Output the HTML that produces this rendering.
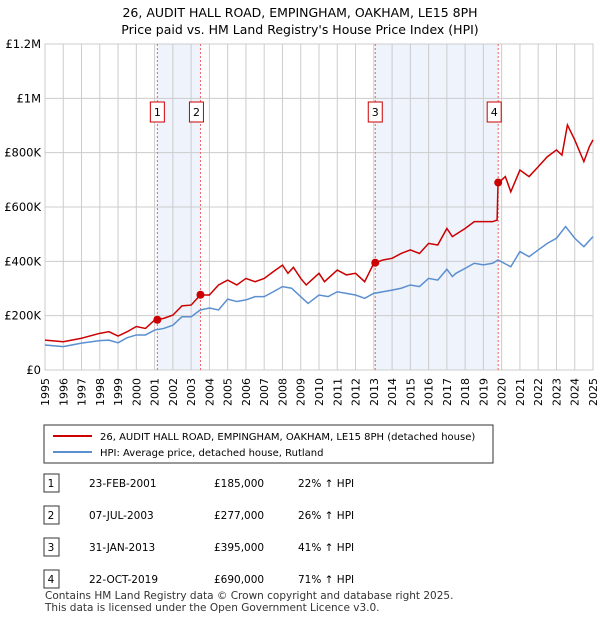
<!DOCTYPE html>
<html><head><meta charset="utf-8"><style>
body{margin:0;background:#fff;font-family:"Liberation Sans","DejaVu Sans",sans-serif;}
svg text{font-family:"DejaVu Sans","Liberation Sans",sans-serif;}
</style></head><body>
<svg id="c" width="600" height="620" xmlns="http://www.w3.org/2000/svg">
<text x="300" y="17" text-anchor="middle" font-size="12.5">26, AUDIT HALL ROAD, EMPINGHAM, OAKHAM, LE15 8PH</text>
<text x="300" y="34" text-anchor="middle" font-size="12.5">Price paid vs. HM Land Registry's House Price Index (HPI)</text>
<g id="plot"></g>
<rect x="44" y="425" width="449" height="38" fill="#fff" stroke="#333"/>
<line x1="53" y1="436" x2="92" y2="436" stroke="#cc0000" stroke-width="2"/>
<text x="100" y="440" font-size="10">26, AUDIT HALL ROAD, EMPINGHAM, OAKHAM, LE15 8PH (detached house)</text>
<line x1="53" y1="452" x2="92" y2="452" stroke="#5b8fd0" stroke-width="2"/>
<text x="100" y="456" font-size="10">HPI: Average price, detached house, Rutland</text>
<g id="tbl" font-size="10.5"></g>
<text x="45" y="599" font-size="10.5" fill="#333">Contains HM Land Registry data © Crown copyright and database right 2025.</text>
<text x="45" y="611" font-size="10.5" fill="#333">This data is licensed under the Open Government Licence v3.0.</text>
</svg>
<script>
const hpiYears=[1995,1996,1997,1998,1998.5,1999,1999.5,2000,2000.5,2001,2001.5,2002,2002.5,2003,2003.5,2004,2004.5,2005,2005.5,2006,2006.5,2007,2007.5,2008,2008.5,2009,2009.4,2010,2010.5,2011,2011.5,2012,2012.5,2013,2013.5,2014,2014.5,2015,2015.5,2016,2016.5,2017,2017.3,2017.5,2018,2018.5,2019,2019.5,2019.8,2020.5,2021,2021.5,2022,2022.5,2023,2023.5,2024,2024.5,2025];
const hpiValues=[92,86,99,108,110,100,119,129,129,147,153,165,196,196,221,228,221,261,252,258,270,270,288,307,301,270,245,276,270,288,282,276,264,282,288,294,301,313,307,337,331,371,344,356,374,393,387,393,405,380,436,417,442,466,485,528,485,454,491];
const ppYears=[1995,1996,1997,1998,1998.5,1999,1999.5,2000,2000.5,2001,2001.5,2002,2002.5,2003,2003.5,2004,2004.5,2005,2005.5,2006,2006.5,2007,2007.5,2008,2008.3,2008.6,2009,2009.3,2010,2010.3,2011,2011.5,2012,2012.5,2013,2013.5,2014,2014.5,2015,2015.5,2016,2016.5,2017,2017.3,2018,2018.5,2019,2019.5,2019.75,2019.8,2020.2,2020.5,2021,2021.5,2022,2022.5,2023,2023.3,2023.6,2024,2024.5,2024.8,2025];
const ppValues=[110,104,117,135,141,125,141,160,153,184,190,202,236,239,276,276,313,331,313,337,325,337,362,386,356,378,337,313,356,325,368,350,356,325,393,405,411,429,442,429,466,460,521,491,521,546,546,546,552,687,712,656,736,712,748,785,810,791,902,847,767,822,847];
const saleDates=[2001.15,2003.51,2013.08,2019.81];
const salePrices=[185,277,395,690];
const saleLabels=["1","2","3","4"];
const saleDateText=["23-FEB-2001","07-JUL-2003","31-JAN-2013","22-OCT-2019"];
const salePriceText=["£185,000","£277,000","£395,000","£690,000"];
const saleHpiText=["22% ↑ HPI","26% ↑ HPI","41% ↑ HPI","71% ↑ HPI"];
const yTicks=[0,200,400,600,800,1000,1200];
const yTickLabels=["£0","£200K","£400K","£600K","£800K","£1M","£1.2M"];
const X0=45,X1=593,Y0=370,Y1=44;
const xs=y=>X0+(y-1995)/30*(X1-X0);
const ys=v=>Y0-v/1200*(Y0-Y1);
const NS="http://www.w3.org/2000/svg";
const g=document.getElementById('plot');
function mk(t,a,p){const e=document.createElementNS(NS,t);for(const k in a)e.setAttribute(k,a[k]);(p||g).appendChild(e);return e;}
for(const [a,b] of [[0,1],[2,3]]){
 const r=mk('rect',{x:xs(saleDates[a]),y:Y1,width:xs(saleDates[b])-xs(saleDates[a]),height:Y0-Y1,fill:'#eef3fc'});
 
 
}
for(let yr=1995;yr<=2025;yr++){
 const l=mk('line',{x1:xs(yr),x2:xs(yr),y1:Y1,y2:Y0,stroke:'#ccc'});
 
 
 const t=mk('text',{x:0,y:0,'font-size':11,'text-anchor':'end',transform:`translate(${xs(yr)+4},${Y0+8}) rotate(-90)`});
 t.textContent=yr;
 
 
}
yTicks.forEach((v,i)=>{
 const l=mk('line',{x1:X0,x2:X1,y1:ys(v),y2:ys(v),stroke:'#ccc'});
 
 
 const t=mk('text',{x:X0-4,y:ys(v)+4,'font-size':11.5,'text-anchor':'end'});
 t.textContent=yTickLabels[i];
 
 
});
const frame=mk('rect',{x:X0,y:Y1,width:X1-X0,height:Y0-Y1,fill:'none',stroke:'#ccc'});


saleDates.forEach((d,i)=>{
 const l=mk('line',{x1:xs(d),x2:xs(d),y1:Y1,y2:Y0,stroke:'#f06060','stroke-dasharray':'2,2'});
 
 
});
const hp=mk('polyline',{points:hpiYears.map((y,i)=>xs(y)+','+ys(hpiValues[i])).join(' '),fill:'none',stroke:'#5b8fd0','stroke-width':1.5});


const pp=mk('polyline',{points:ppYears.map((y,i)=>xs(y)+','+ys(ppValues[i])).join(' '),fill:'none',stroke:'#cc0000','stroke-width':1.5});


saleDates.forEach((d,i)=>{
 const c=mk('circle',{cx:xs(d),cy:ys(salePrices[i]),r:4,fill:'#cc0000'});
 
 
 const b=mk('rect',{x:xs(d)-7-(i%2?4:0),y:102,width:14,height:20,fill:'#fff',stroke:'#cc0000'});
 
 
 const t=mk('text',{x:xs(d)-(i%2?4:0),y:116,'font-size':11,'text-anchor':'middle'});
 t.textContent=saleLabels[i];
 
 
});
const tb=document.getElementById('tbl');
saleDates.forEach((d,i)=>{
 const y=482+i*32;
 const b=mk('rect',{x:44,y:y-8,width:15,height:18,fill:'#fff',stroke:'#333'},tb);
 
 
 const cells=[[51,saleLabels[i],'middle'],[89,saleDateText[i],'start'],[214,salePriceText[i],'start'],[298,saleHpiText[i],'start']];
 cells.forEach(([x,s,a])=>{
  const t=mk('text',{x:x,y:y+5,'text-anchor':a},tb);
  t.textContent=s;
  
  
 });
});
</script>
</body></html>
